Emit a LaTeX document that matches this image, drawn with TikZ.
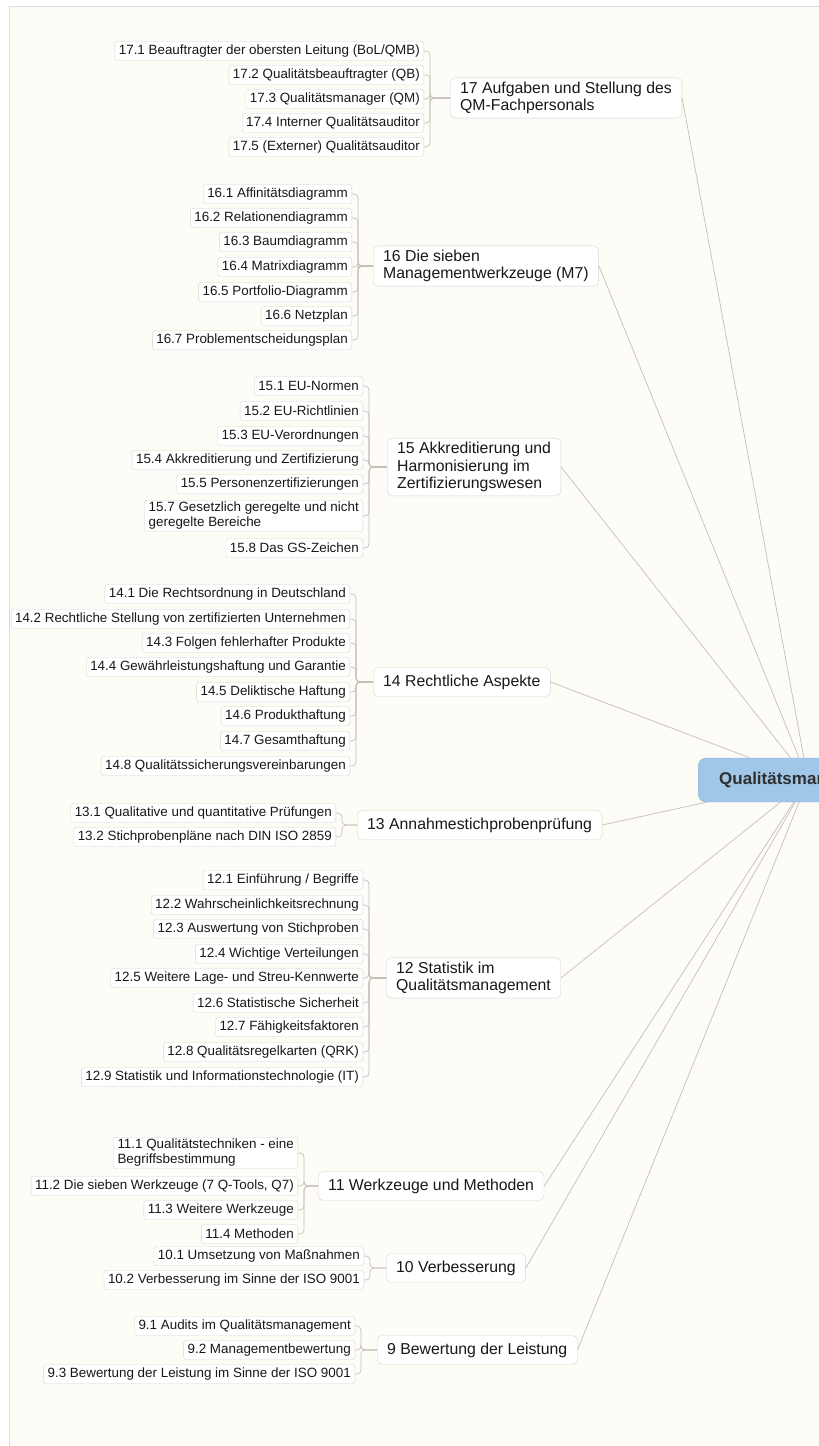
\documentclass[tikz,border=0pt]{standalone}
\usepackage{fontspec}
\setmainfont{Liberation Sans}

\definecolor{bgcream}{RGB}{253,252,246}
\definecolor{frameline}{RGB}{222,220,212}
\definecolor{boxline}{RGB}{214,212,206}
\definecolor{linkgray}{RGB}{196,192,184}
\definecolor{rootblue}{RGB}{160,198,232}
\definecolor{rootline}{RGB}{142,182,222}
\definecolor{inkgray}{RGB}{24,24,24}

\begin{document}
\begin{tikzpicture}[x=1pt, y=-1pt,
  sub/.style={draw=boxline, fill=white, rounded corners=2.5pt, anchor=east, align=left,
    font=\fontsize{13.4}{15}\selectfont, text=inkgray, inner xsep=4pt, inner ysep=2pt, minimum height=19pt},
  topic/.style={draw=boxline, fill=white, rounded corners=5pt, anchor=west, align=left,
    font=\fontsize{15.8}{17.5}\selectfont, text=inkgray, inner xsep=10pt, inner ysep=4pt, minimum height=29pt},
  root/.style={draw=rootline, fill=rootblue, rounded corners=8pt, anchor=west,
    font=\bfseries\fontsize{17}{20}\selectfont, text=inkgray!90, inner xsep=21pt, minimum height=44pt},
  link/.style={draw=linkgray, line width=0.7pt, rounded corners=4pt},
  branch/.style={draw=linkgray, line width=0.7pt}]

% Background
\clip (0,0) rectangle (819,1446);
\fill[white] (0,0) rectangle (819,1446);
\draw[frameline, fill=bgcream] (9,6) rectangle (840,1470);

% Root
\node[root] (root) at (698,780) {Qualitätsmanagement};

% Main topics
\node[topic] (t17) at (450,98) {17 Aufgaben und Stellung des\\QM-Fachpersonals};
\node[topic] (t16) at (373,266) {16 Die sieben\\Managementwerkzeuge (M7)};
\node[topic] (t15) at (387,467) {15 Akkreditierung und\\Harmonisierung im\\Zertifizierungswesen};
\node[topic] (t14) at (373,682) {14 Rechtliche Aspekte};
\node[topic] (t13) at (357,825) {13 Annahmestichprobenprüfung};
\node[topic] (t12) at (386,978) {12 Statistik im\\Qualitätsmanagement};
\node[topic] (t11) at (318,1186) {11 Werkzeuge und Methoden};
\node[topic] (t10) at (386,1268) {10 Verbesserung};
\node[topic] (t9) at (377,1350) {9 Bewertung der Leistung};

% Subtopics 17
\node[sub] (s17-1) at (424,51) {17.1 Beauftragter der obersten Leitung (BoL/QMB)};
\node[sub] (s17-2) at (424,75) {17.2 Qualitätsbeauftragter (QB)};
\node[sub] (s17-3) at (424,99) {17.3 Qualitätsmanager (QM)};
\node[sub] (s17-4) at (424,123) {17.4 Interner Qualitätsauditor};
\node[sub] (s17-5) at (424,147) {17.5 (Externer) Qualitätsauditor};

% Subtopics 16
\node[sub] (s16-1) at (352,194) {16.1 Affinitätsdiagramm};
\node[sub] (s16-2) at (352,218) {16.2 Relationendiagramm};
\node[sub] (s16-3) at (352,242) {16.3 Baumdiagramm};
\node[sub] (s16-4) at (352,267) {16.4 Matrixdiagramm};
\node[sub] (s16-5) at (352,292) {16.5 Portfolio-Diagramm};
\node[sub] (s16-6) at (352,316) {16.6 Netzplan};
\node[sub] (s16-7) at (352,340) {16.7 Problementscheidungsplan};

% Subtopics 15
\node[sub] (s15-1) at (363,386) {15.1 EU-Normen};
\node[sub] (s15-2) at (363,411) {15.2 EU-Richtlinien};
\node[sub] (s15-3) at (363,436) {15.3 EU-Verordnungen};
\node[sub] (s15-4) at (363,460) {15.4 Akkreditierung und Zertifizierung};
\node[sub] (s15-5) at (363,484) {15.5 Personenzertifizierungen};
\node[sub] (s15-7) at (363,516) {15.7 Gesetzlich geregelte und nicht\\geregelte Bereiche};
\node[sub] (s15-8) at (363,548) {15.8 Das GS-Zeichen};

% Subtopics 14
\node[sub] (s14-1) at (350,594) {14.1 Die Rechtsordnung in Deutschland};
\node[sub] (s14-2) at (350,619) {14.2 Rechtliche Stellung von zertifizierten Unternehmen};
\node[sub] (s14-3) at (350,643) {14.3 Folgen fehlerhafter Produkte};
\node[sub] (s14-4) at (350,667) {14.4 Gewährleistungshaftung und Garantie};
\node[sub] (s14-5) at (350,692) {14.5 Deliktische Haftung};
\node[sub] (s14-6) at (350,716) {14.6 Produkthaftung};
\node[sub] (s14-7) at (350,741) {14.7 Gesamthaftung};
\node[sub] (s14-8) at (350,766) {14.8 Qualitätssicherungsvereinbarungen};

% Subtopics 13
\node[sub] (s13-1) at (336,813) {13.1 Qualitative und quantitative Prüfungen};
\node[sub] (s13-2) at (336,837) {13.2 Stichprobenpläne nach DIN ISO 2859};

% Subtopics 12
\node[sub] (s12-1) at (363,880) {12.1 Einführung / Begriffe};
\node[sub] (s12-2) at (363,905) {12.2 Wahrscheinlichkeitsrechnung};
\node[sub] (s12-3) at (363,929) {12.3 Auswertung von Stichproben};
\node[sub] (s12-4) at (363,954) {12.4 Wichtige Verteilungen};
\node[sub] (s12-5) at (363,978) {12.5 Weitere Lage- und Streu-Kennwerte};
\node[sub] (s12-6) at (363,1003) {12.6 Statistische Sicherheit};
\node[sub] (s12-7) at (363,1027) {12.7 Fähigkeitsfaktoren};
\node[sub] (s12-8) at (363,1052) {12.8 Qualitätsregelkarten (QRK)};
\node[sub] (s12-9) at (363,1077) {12.9 Statistik und Informationstechnologie (IT)};

% Subtopics 11
\node[sub] (s11-1) at (298,1153) {11.1 Qualitätstechniken - eine\\Begriffsbestimmung};
\node[sub] (s11-2) at (298,1186) {11.2 Die sieben Werkzeuge (7 Q-Tools, Q7)};
\node[sub] (s11-3) at (298,1210) {11.3 Weitere Werkzeuge};
\node[sub] (s11-4) at (298,1234) {11.4 Methoden};

% Subtopics 10
\node[sub] (s10-1) at (364,1256) {10.1 Umsetzung von Maßnahmen};
\node[sub] (s10-2) at (364,1280) {10.2 Verbesserung im Sinne der ISO 9001};

% Subtopics 9
\node[sub] (s9-1) at (355,1326) {9.1 Audits im Qualitätsmanagement};
\node[sub] (s9-2) at (355,1350) {9.2 Managementbewertung};
\node[sub] (s9-3) at (355,1374) {9.3 Bewertung der Leistung im Sinne der ISO 9001};

% Branches to the root
\draw[branch] (t17.east) -- (root);
\draw[branch] (t16.east) -- (root);
\draw[branch] (t15.east) -- (root);
\draw[branch] (t14.east) -- (root);
\draw[branch] (t13.east) -- (root);
\draw[branch] (t12.east) -- (root);
\draw[branch] (t11.east) -- (root);
\draw[branch] (t10.east) -- (root);
\draw[branch] (t9.east) -- (root);

% Brackets
\draw[link] (s17-1.east) -- ++(6,0) |- (t17.west);
\draw[link] (s17-2.east) -- ++(6,0) |- (t17.west);
\draw[link] (s17-3.east) -- ++(6,0) |- (t17.west);
\draw[link] (s17-4.east) -- ++(6,0) |- (t17.west);
\draw[link] (s17-5.east) -- ++(6,0) |- (t17.west);

\draw[link] (s16-1.east) -- ++(6,0) |- (t16.west);
\draw[link] (s16-2.east) -- ++(6,0) |- (t16.west);
\draw[link] (s16-3.east) -- ++(6,0) |- (t16.west);
\draw[link] (s16-4.east) -- ++(6,0) |- (t16.west);
\draw[link] (s16-5.east) -- ++(6,0) |- (t16.west);
\draw[link] (s16-6.east) -- ++(6,0) |- (t16.west);
\draw[link] (s16-7.east) -- ++(6,0) |- (t16.west);

\draw[link] (s15-1.east) -- ++(6,0) |- (t15.west);
\draw[link] (s15-2.east) -- ++(6,0) |- (t15.west);
\draw[link] (s15-3.east) -- ++(6,0) |- (t15.west);
\draw[link] (s15-4.east) -- ++(6,0) |- (t15.west);
\draw[link] (s15-5.east) -- ++(6,0) |- (t15.west);
\draw[link] (s15-7.east) -- ++(6,0) |- (t15.west);
\draw[link] (s15-8.east) -- ++(6,0) |- (t15.west);

\draw[link] (s14-1.east) -- ++(6,0) |- (t14.west);
\draw[link] (s14-2.east) -- ++(6,0) |- (t14.west);
\draw[link] (s14-3.east) -- ++(6,0) |- (t14.west);
\draw[link] (s14-4.east) -- ++(6,0) |- (t14.west);
\draw[link] (s14-5.east) -- ++(6,0) |- (t14.west);
\draw[link] (s14-6.east) -- ++(6,0) |- (t14.west);
\draw[link] (s14-7.east) -- ++(6,0) |- (t14.west);
\draw[link] (s14-8.east) -- ++(6,0) |- (t14.west);

\draw[link] (s13-1.east) -- ++(6,0) |- (t13.west);
\draw[link] (s13-2.east) -- ++(6,0) |- (t13.west);

\draw[link] (s12-1.east) -- ++(6,0) |- (t12.west);
\draw[link] (s12-2.east) -- ++(6,0) |- (t12.west);
\draw[link] (s12-3.east) -- ++(6,0) |- (t12.west);
\draw[link] (s12-4.east) -- ++(6,0) |- (t12.west);
\draw[link] (s12-5.east) -- ++(6,0) |- (t12.west);
\draw[link] (s12-6.east) -- ++(6,0) |- (t12.west);
\draw[link] (s12-7.east) -- ++(6,0) |- (t12.west);
\draw[link] (s12-8.east) -- ++(6,0) |- (t12.west);
\draw[link] (s12-9.east) -- ++(6,0) |- (t12.west);

\draw[link] (s11-1.east) -- ++(6,0) |- (t11.west);
\draw[link] (s11-2.east) -- ++(6,0) |- (t11.west);
\draw[link] (s11-3.east) -- ++(6,0) |- (t11.west);
\draw[link] (s11-4.east) -- ++(6,0) |- (t11.west);

\draw[link] (s10-1.east) -- ++(6,0) |- (t10.west);
\draw[link] (s10-2.east) -- ++(6,0) |- (t10.west);

\draw[link] (s9-1.east) -- ++(6,0) |- (t9.west);
\draw[link] (s9-2.east) -- ++(6,0) |- (t9.west);
\draw[link] (s9-3.east) -- ++(6,0) |- (t9.west);

\end{tikzpicture}
\end{document}
